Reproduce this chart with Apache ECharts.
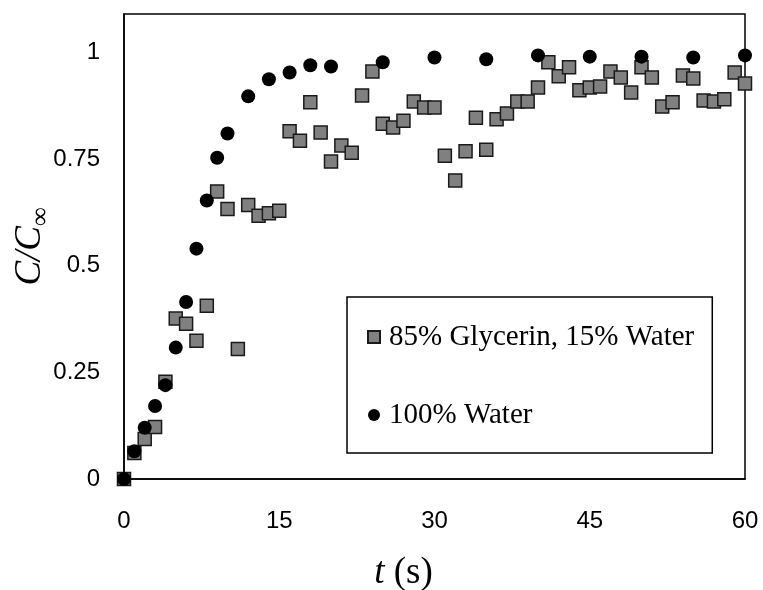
<!DOCTYPE html>
<html>
<head>
<meta charset="utf-8">
<script src="https://cdn.jsdelivr.net/npm/echarts@6/dist/echarts.min.js"></script>
<style>
html, body { margin: 0; padding: 0; background: #fff; }
#container { width: 763px; height: 590px; }
</style>
</head>
<body>
<div id="container"></div>
<script>
var dom = document.getElementById("container");
var myChart = echarts.init(dom);

// 85% glycerin, 15% water: one reading per second
var glyTime = [0,1,2,3,4,5,6,7,8,9,10,11,12,13,14,15,16,17,18,19,20,
    21,22,23,24,25,26,27,28,29,30,31,32,33,34,35,36,37,38,39,40,
    41,42,43,44,45,46,47,48,49,50,51,52,53,54,55,56,57,58,59,60];
var glyValue = [0,0.061,0.094,0.122,0.228,0.376,0.364,0.324,0.406,0.674,0.633,
    0.305,0.642,0.617,0.623,0.629,0.815,0.793,0.883,0.812,0.744,
    0.782,0.765,0.899,0.955,0.833,0.824,0.840,0.885,0.871,0.871,
    0.758,0.700,0.768,0.847,0.772,0.843,0.857,0.885,0.885,0.918,
    0.977,0.944,0.965,0.911,0.918,0.920,0.955,0.941,0.906,0.965,
    0.941,0.873,0.883,0.946,0.939,0.887,0.885,0.890,0.953,0.927];

// 100% water
var watTime = [0,1,2,3,4,5,6,7,8,9,10,12,14,16,18,20,25,30,35,40,45,50,55,60];
var watValue = [0,0.065,0.120,0.171,0.220,0.308,0.415,0.540,0.653,0.753,0.810,
    0.897,0.937,0.953,0.970,0.967,0.977,0.988,0.984,0.993,0.990,0.990,0.988,0.993];

var seriesNames = ['85% Glycerin, 15% Water', '100% Water'];

function pairs(xs, ys) {
    return xs.map(function (x, i) { return [x, ys[i]]; });
}

var serif = '"Liberation Serif", "Times New Roman", serif';
var sans = '"Liberation Sans", Arial, sans-serif';

var option = {
    animation: false,
    backgroundColor: '#fff',
    grid: {
        left: 124,
        right: 18,
        top: 14,
        bottom: 111,
        outerBoundsMode: 'none',
        containLabel: false,
        show: true,
        borderColor: '#000',
        borderWidth: 1.5
    },
    legend: {
        orient: 'vertical',
        left: 347,
        top: 297,
        padding: [25, 18, 23, 20],
        itemGap: 48,
        itemWidth: 12,
        itemHeight: 12,
        borderColor: '#000',
        borderWidth: 1.5,
        textStyle: {
            fontFamily: serif,
            fontSize: 29,
            lineHeight: 30,
            color: '#000',
            padding: [0, 0, 0, 4]
        },
        data: [
            {name: seriesNames[0], icon: 'rect'},
            {name: seriesNames[1], icon: 'circle'}
        ]
    },
    xAxis: {
        type: 'value',
        min: 0,
        max: 60,
        interval: 15,
        name: '{i|t} (s)',
        nameLocation: 'middle',
        nameGap: 76,
        nameMoveOverlap: false,
        nameTextStyle: {
            fontFamily: serif,
            fontSize: 37,
            color: '#000',
            padding: [0, 62, 0, 0],
            rich: {
                i: {fontFamily: serif, fontSize: 37, fontStyle: 'italic', color: '#000'}
            }
        },
        splitLine: {show: false},
        axisTick: {show: false},
        axisLine: {onZero: false, lineStyle: {color: '#000', width: 1.5}},
        axisLabel: {
            margin: 30,
            fontFamily: sans,
            fontSize: 24,
            color: '#000'
        }
    },
    yAxis: {
        type: 'value',
        min: 0,
        max: 1.09,
        interval: 0.25,
        name: '{i|C}{i|/}{i|C}{sub|∞}',
        nameLocation: 'middle',
        nameRotate: 90,
        nameGap: 70,
        nameMoveOverlap: false,
        nameTextStyle: {
            color: '#000',
            rich: {
                i: {fontFamily: serif, fontSize: 37, fontStyle: 'italic', color: '#000'},
                sub: {fontFamily: serif, fontSize: 26, fontStyle: 'italic', color: '#000',
                    verticalAlign: 'bottom', padding: [22, 0, 0, 0]}
            }
        },
        splitLine: {show: false},
        axisTick: {show: false},
        axisLine: {lineStyle: {color: '#000', width: 1.5}},
        axisLabel: {
            margin: 24,
            showMaxLabel: false,
            fontFamily: sans,
            fontSize: 24,
            color: '#000'
        }
    },
    series: [
        {
            name: seriesNames[0],
            type: 'scatter',
            symbol: 'rect',
            symbolSize: 13,
            itemStyle: {color: '#808080', borderColor: '#1a1a1a', borderWidth: 1.5, opacity: 1},
            data: pairs(glyTime, glyValue),
            z: 2
        },
        {
            name: seriesNames[1],
            type: 'scatter',
            symbol: 'circle',
            symbolSize: 14,
            itemStyle: {color: '#000', opacity: 1},
            data: pairs(watTime, watValue),
            z: 3
        }
    ]
};

if (option && typeof option === "object") {
    myChart.setOption(option, true);
}
window.addEventListener('resize', function () {
    myChart.resize();
});
</script>
</body>
</html>
